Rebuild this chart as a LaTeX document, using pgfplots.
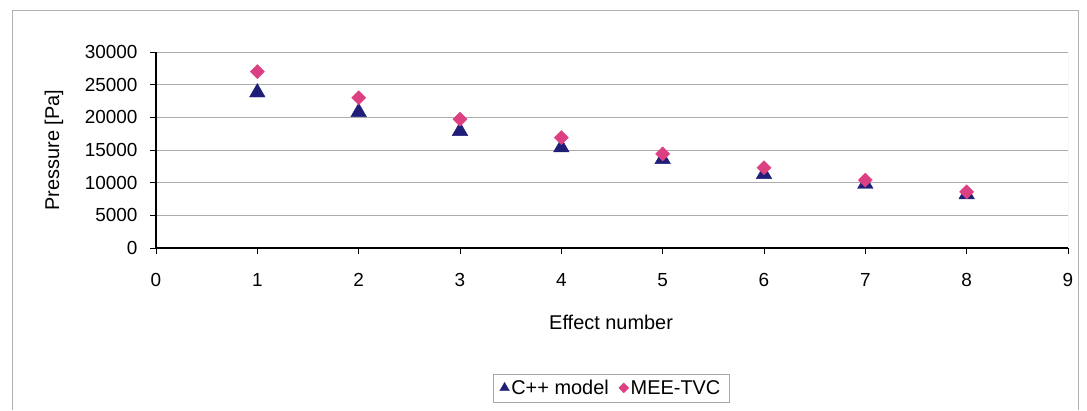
\documentclass[border=0pt]{standalone}
\usepackage{fontspec}
\setmainfont{Liberation Sans}
\usepackage{pgfplots}
\pgfplotsset{compat=1.18}
\definecolor{cppblue}{RGB}{31,31,122}
\definecolor{meepink}{RGB}{221,64,130}

\begin{document}
\begin{tikzpicture}[x=1bp,y=1bp]
\useasboundingbox (-156,-162) rectangle (931,248);
% outer chart frame
\draw[gray!60, line width=0.8bp] (-144,-162) -- (-144,238) -- (922,238) -- (922,-162);
\begin{axis}[
    at={(0,0)}, anchor=south west,
    scale only axis,
    width=912bp, height=196bp,
    xmin=0, xmax=9, ymin=0, ymax=30000,
    xtick={0,1,...,9},
    ytick={0,5000,...,30000},
    scaled y ticks=false,
    /pgf/number format/1000 sep={},
    /pgf/number format/assume math mode=true,
    font=\fontsize{19}{22}\selectfont,
    yticklabel style={xshift=-9bp},
    xticklabel style={yshift=-16bp},
    axis x line*=bottom, axis y line*=left,
    axis line style={black, line width=1.1bp, -},
    tick align=outside, major tick length=6bp,
    tick style={black, line width=0.8bp},
    ymajorgrids, grid style={gray!65, line width=0.8bp},
    xlabel={Effect number},
    ylabel={Pressure [Pa]},
    every axis x label/.style={at={(axis description cs:0.499,-0.378)}, anchor=center,
        font=\fontsize{20}{22}\selectfont},
    every axis y label/.style={at={(axis description cs:-0.112,0.5)}, rotate=90, anchor=center,
        font=\fontsize{20}{22}\selectfont},
    legend style={at={(0.499,-0.714)}, anchor=center, draw=gray!70,
        legend columns=2, font=\fontsize{20}{22}\selectfont,
        inner xsep=7bp, inner ysep=4bp,
        /tikz/every even column/.append style={column sep=8bp}},
    legend image post style={mark size=5.5bp},
    legend cell align=left,
]
\draw[gray!65, line width=0.8bp] (axis cs:9,0) -- (axis cs:9,30000);
\addplot[only marks, mark=triangle*, mark size=9bp, color=cppblue] coordinates {
    (1,23800) (2,20800) (3,17900) (4,15400) (5,13600) (6,11300) (7,9800) (8,8200)
};
\addlegendentry{C++ model}
\addplot[only marks, mark=square*, mark size=5bp, mark options={rotate=45}, color=meepink,
    legend image post style={mark size=3.5bp}] coordinates {
    (1,27000) (2,23000) (3,19700) (4,16900) (5,14400) (6,12300) (7,10400) (8,8600)
};
\addlegendentry{MEE-TVC}
\end{axis}
\end{tikzpicture}
\end{document}
